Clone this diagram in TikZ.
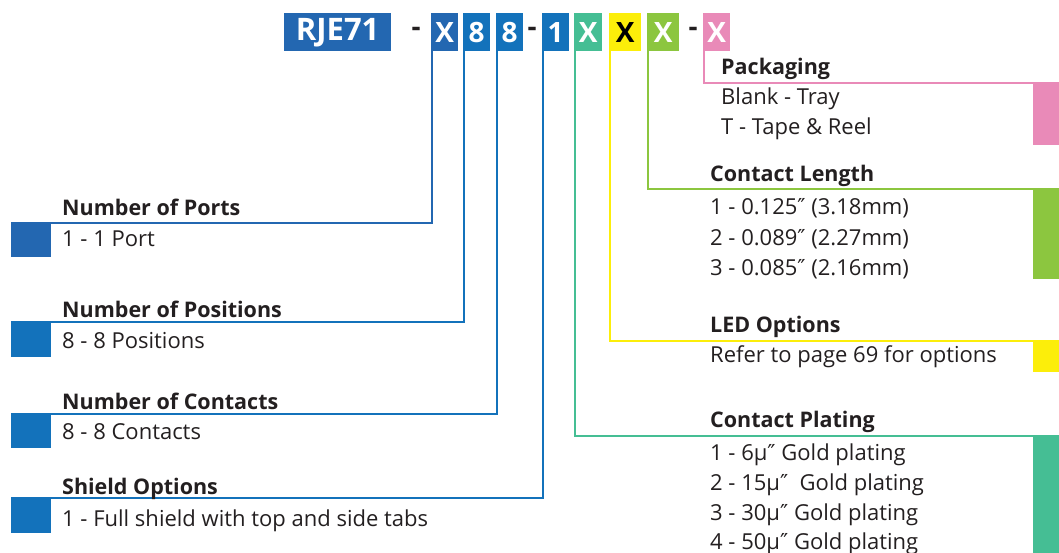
\documentclass[tikz,border=0pt]{standalone}
\usepackage{fontspec}
\setmainfont{Open Sans}
\newfontfamily\primefont{DejaVu Sans}
\newcommand\dprime{{\primefont ″}}
\usetikzlibrary{positioning}

\definecolor{pnblue}{RGB}{35,103,177}
\definecolor{pnblueb}{RGB}{19,114,187}
\definecolor{pnteal}{RGB}{69,190,148}
\definecolor{pnyellow}{RGB}{252,238,10}
\definecolor{pngreen}{RGB}{140,198,63}
\definecolor{pnpink}{RGB}{233,138,184}
\definecolor{pntext}{RGB}{35,31,32}

\begin{document}
\begin{tikzpicture}[
  x=1pt, y=-1pt,
  code/.style={anchor=north west, inner sep=0, minimum width=27pt, minimum height=38pt,
    text=white, font=\fontsize{28}{30}\selectfont\bfseries},
  hyph/.style={inner sep=0, text=pntext, font=\fontsize{28}{30}\selectfont\bfseries},
  title/.style={anchor=base west, inner sep=0, text=pntext, font=\fontsize{21.5}{24}\selectfont\bfseries},
  item/.style={anchor=base west, inner sep=0, text=pntext, font=\fontsize{22}{24}\selectfont},
  tab/.style={anchor=north west, inner sep=0, minimum width=40pt},
  lead/.style={line width=2.5pt}
]
\useasboundingbox (0,0) rectangle (1059,553);

% part number
\node[code, fill=pnblue, minimum width=107pt, font=\fontsize{31}{33}\selectfont\bfseries] (rje) at (284,13) {RJE71};
\node[hyph] (h1) at (416,32) {-};
\node[code, fill=pnblue] (cports) at (431,13) {X};
\node[code, fill=pnblueb] (cpos) at (463,13) {8};
\node[code, fill=pnblueb] (ccont) at (496,13) {8};
\node[hyph] (h2) at (532,32) {-};
\node[code, fill=pnblueb] (cshield) at (542,13) {1};
\node[code, fill=pnteal, minimum width=28pt] (cplat) at (574,13) {X};
\node[code, fill=pnyellow, minimum width=32pt, text=black] (cled) at (609,13) {X};
\node[code, fill=pngreen, minimum width=32pt] (clen) at (647,13) {X};
\node[hyph] (h3) at (693,32) {-};
\node[code, fill=pnpink] (cpack) at (703,13) {X};

% left side
\node[tab, fill=pnblue, minimum height=34pt] (mports) at (11,223) {};
\node[tab, fill=pnblueb, minimum height=35pt] (mpos) at (11,322) {};
\node[tab, fill=pnblueb, minimum height=34pt] (mcont) at (11,414) {};
\node[tab, fill=pnblueb, minimum height=35pt] (mshield) at (11,498) {};

\draw[lead, pnblue] ([xshift=1pt]cports.south west) |- (mports.north west);
\draw[lead, pnblueb] ([xshift=1pt]cpos.south west) |- (mpos.north west);
\draw[lead, pnblueb] ([xshift=1pt]ccont.south west) |- (mcont.north west);
\draw[lead, pnblueb] ([xshift=1pt]cshield.south west) |- (mshield.north west);

\node[title] (tports) at (62,216) {Number of Ports};
\node[item] (iports) at (62,247) {1 - 1 Port};
\node[title] (tpos) at (62,317) {Number of Positions};
\node[item] (ipos) at (62,348) {8 - 8 Positions};
\node[title] (tcont) at (62,409) {Number of Contacts};
\node[item] (icont) at (62,439) {8 - 8 Contacts};
\node[title] (tshield) at (62,494) {Shield Options};
\node[item] (ishield) at (62,526) {1 - Full shield with top and side tabs};

% right side
\node[tab, fill=pnpink, minimum width=26pt, minimum height=62pt] (mpack) at (1033,83) {};
\node[tab, fill=pngreen, minimum width=26pt, minimum height=90pt] (mlen) at (1033,189) {};
\node[tab, fill=pnyellow, minimum width=26pt, minimum height=31pt] (mled) at (1033,341) {};
\node[tab, fill=pnteal, minimum width=26pt, minimum height=117pt] (mplat) at (1033,436) {};

\draw[lead, pnpink] ([xshift=1pt]cpack.south west) |- (mpack.north east);
\draw[lead, pngreen] ([xshift=1pt]clen.south west) |- (mlen.north east);
\draw[lead, pnyellow] ([xshift=1pt]cled.south west) |- (mled.north east);
\draw[lead, pnteal] ([xshift=1pt]cplat.south west) |- (mplat.north east);

\node[title] (tpack) at (721,75) {Packaging};
\node[item] at (721,105) {Blank - Tray};
\node[item] at (721,135) {T - Tape \& Reel};
\node[title] (tlen) at (710,182) {Contact Length};
\node[item] at (710,215) {1 - 0.125\dprime{} (3.18mm)};
\node[item] at (710,245) {2 - 0.089\dprime{} (2.27mm)};
\node[item] at (710,275) {3 - 0.085\dprime{} (2.16mm)};
\node[title] (tled) at (710,332) {LED Options};
\node[item] at (710,362) {Refer to page 69 for options};
\node[title] (tplat) at (710,427) {Contact Plating};
\node[item] at (710,460) {1 - 6µ\dprime{} Gold plating};
\node[item] at (710,490) {2 - 15µ\dprime{}~ Gold plating};
\node[item] at (710,520) {3 - 30µ\dprime{} Gold plating};
\node[item] at (710,549) {4 - 50µ\dprime{} Gold plating};
\end{tikzpicture}
\end{document}
